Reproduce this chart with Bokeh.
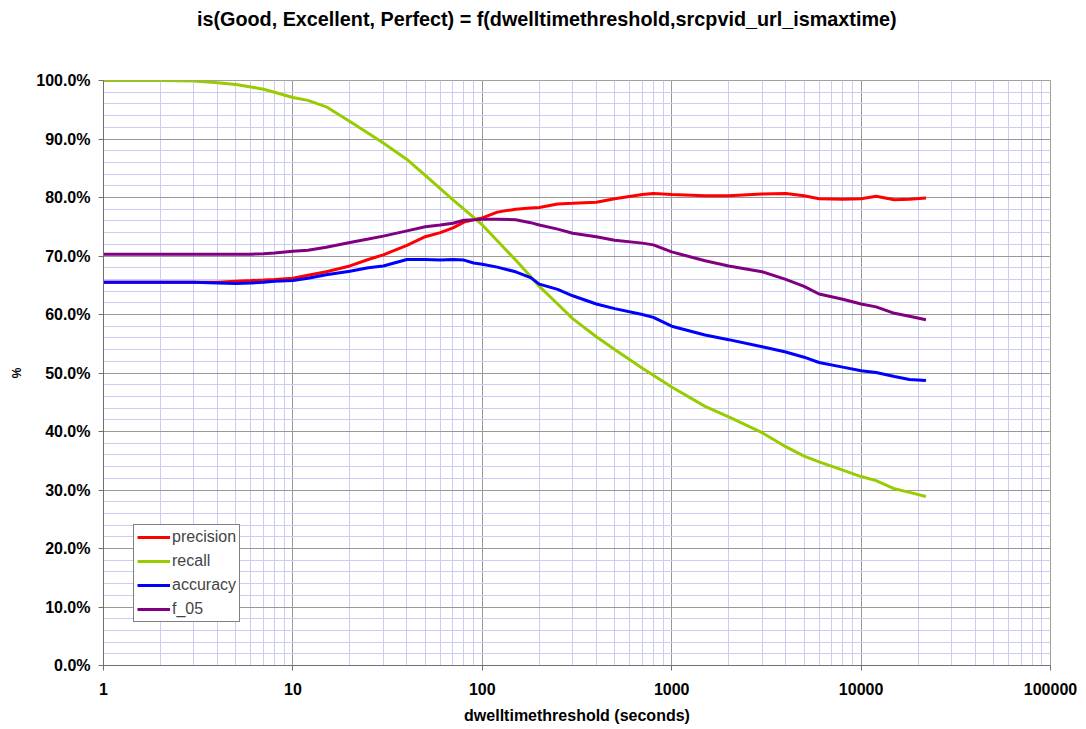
from bokeh.plotting import figure
from bokeh.models import (LogTicker, SingleIntervalTicker, PrintfTickFormatter, FixedTicker,
                          NumeralTickFormatter, Range1d, LogAxis, Legend, LegendItem)
from bokeh.embed import file_html
from bokeh.resources import INLINE

# dwell-time threshold (seconds)
threshold = [1, 2, 3, 4, 5, 6, 7, 8, 10, 12, 15, 20, 25, 30, 40, 50, 60, 70, 80, 90,
             100, 120, 150, 180, 200, 250, 300, 400, 500, 700, 800, 1000, 1500, 2000,
             3000, 4000, 5000, 6000, 8000, 10000, 12000, 15000, 18000, 22000]

precision = [65.5, 65.5, 65.5, 65.5, 65.7, 65.8, 65.9, 66.0, 66.2, 66.7, 67.3, 68.3, 69.4, 70.2,
             71.8, 73.3, 74.0, 74.8, 75.8, 76.2, 76.5, 77.5, 78.0, 78.2, 78.3, 78.9, 79.0,
             79.2, 79.8, 80.5, 80.7, 80.5, 80.3, 80.3, 80.6, 80.7, 80.3, 79.8, 79.7, 79.8,
             80.2, 79.6, 79.7, 79.9]

recall = [100.0, 100.0, 99.9, 99.6, 99.3, 98.9, 98.5, 98.0, 97.1, 96.6, 95.5, 93.0, 91.0, 89.3,
          86.5, 83.8, 81.5, 79.6, 78.0, 76.6, 75.3, 72.6, 69.3, 66.5, 64.8, 61.8, 59.3,
          56.2, 54.0, 50.8, 49.6, 47.6, 44.3, 42.5, 39.8, 37.4, 35.8, 34.8, 33.4, 32.3,
          31.6, 30.2, 29.6, 28.9]

accuracy = [65.5, 65.5, 65.5, 65.4, 65.3, 65.4, 65.5, 65.7, 65.8, 66.2, 66.8, 67.4, 68.0, 68.3,
            69.4, 69.4, 69.3, 69.4, 69.3, 68.8, 68.6, 68.1, 67.3, 66.3, 65.2, 64.3, 63.2,
            61.8, 61.0, 60.0, 59.5, 58.0, 56.5, 55.7, 54.5, 53.6, 52.7, 51.8, 51.0, 50.4,
            50.1, 49.4, 48.9, 48.7]

f_05 = [70.3, 70.3, 70.3, 70.3, 70.3, 70.3, 70.4, 70.5, 70.8, 71.0, 71.5, 72.3, 72.9, 73.4,
        74.3, 75.0, 75.3, 75.6, 76.1, 76.2, 76.3, 76.3, 76.2, 75.7, 75.3, 74.6, 73.9,
        73.3, 72.7, 72.2, 71.9, 70.7, 69.2, 68.3, 67.3, 66.0, 64.8, 63.5, 62.6, 61.8,
        61.3, 60.2, 59.7, 59.1]

series_names = ["precision", "recall", "accuracy", "f_05"]
series_colors = ["#ff0000", "#99cc00", "#0000ff", "#800080"]

title_text = "is(Good, Excellent, Perfect) = f(dwelltimethreshold,srcpvid_url_ismaxtime)"
x_label = "dwelltimethreshold (seconds)"
y_label = "%"

FONT = "Liberation Sans"

p = figure(width=1086, height=729, x_axis_type="log",
           x_range=Range1d(1, 100000), y_range=Range1d(0, 100),
           output_backend="svg", toolbar_location=None,
           min_border_left=103, min_border_right=36, min_border_top=80, min_border_bottom=64)

p.background_fill_color = "white"
p.border_fill_color = "white"
p.outline_line_color = "#a0a0a0"

# axes
p.xaxis.ticker = LogTicker(num_minor_ticks=10)
p.xaxis.formatter = NumeralTickFormatter(format="0")
p.yaxis.ticker = SingleIntervalTicker(interval=10, num_minor_ticks=5)
p.yaxis.formatter = PrintfTickFormatter(format="%.1f%%")

for ax in (p.xaxis[0], p.yaxis[0]):
    ax.axis_line_color = "#707070"
    ax.major_tick_line_color = "#707070"
    ax.major_tick_out = 5
    ax.major_tick_in = 0
    ax.minor_tick_line_color = None
    ax.major_label_text_font = FONT
    ax.major_label_text_font_style = "bold"
    ax.major_label_text_font_size = "16px"
    ax.major_label_text_color = "black"
    ax.axis_label_text_font = FONT
    ax.axis_label_text_font_style = "bold"
    ax.axis_label_text_color = "black"

p.xaxis.major_label_standoff = 12
p.xaxis.axis_label = x_label
p.xaxis.axis_label_text_font_size = "16px"
p.xaxis.axis_label_standoff = 9

p.yaxis.major_label_standoff = 8
p.yaxis.axis_label = y_label
p.yaxis.axis_label_text_font_size = "12px"
p.yaxis.axis_label_standoff = 9

# grids
p.xgrid.grid_line_color = "#999999"
p.xgrid.grid_line_width = 1
p.xgrid.minor_grid_line_color = "#ccccf5"
p.ygrid.grid_line_color = "#999999"
p.ygrid.grid_line_width = 1
p.ygrid.minor_grid_line_color = "#ccccf5"

# lines
data = [precision, recall, accuracy, f_05]
renderers = []
for name, vals, col in zip(series_names, data, series_colors):
    r = p.line(threshold, vals, line_color=col, line_width=3)
    renderers.append(r)

legend = Legend(items=[LegendItem(label=n, renderers=[r]) for n, r in zip(series_names, renderers)],
                location=(30, 43), orientation="vertical",
                label_text_font=FONT, label_text_font_size="16px",
                glyph_width=33, glyph_height=18, label_height=18, label_standoff=2,
                spacing=6, padding=3, margin=0,
                border_line_color="black", border_line_width=1,
                background_fill_color="white", background_fill_alpha=1.0)
p.add_layout(legend, "center")

# chart title: label of an invisible top axis; trailing no-break spaces shift it
# so that it is centred over the whole chart rather than over the plotting area
title_axis = LogAxis(ticker=FixedTicker(ticks=[]),
                     axis_label=title_text + "\u00a0" * 11, axis_label_standoff=51,
                     axis_line_color=None, major_tick_line_color=None,
                     minor_tick_line_color=None, major_tick_out=0, major_tick_in=0,
                     minor_tick_out=0, major_label_standoff=0,
                     axis_label_text_font=FONT, axis_label_text_font_style="bold",
                     axis_label_text_font_size="19.8px", axis_label_text_color="black")
p.add_layout(title_axis, "above")

open("out.html", "w").write(file_html(p, INLINE))
